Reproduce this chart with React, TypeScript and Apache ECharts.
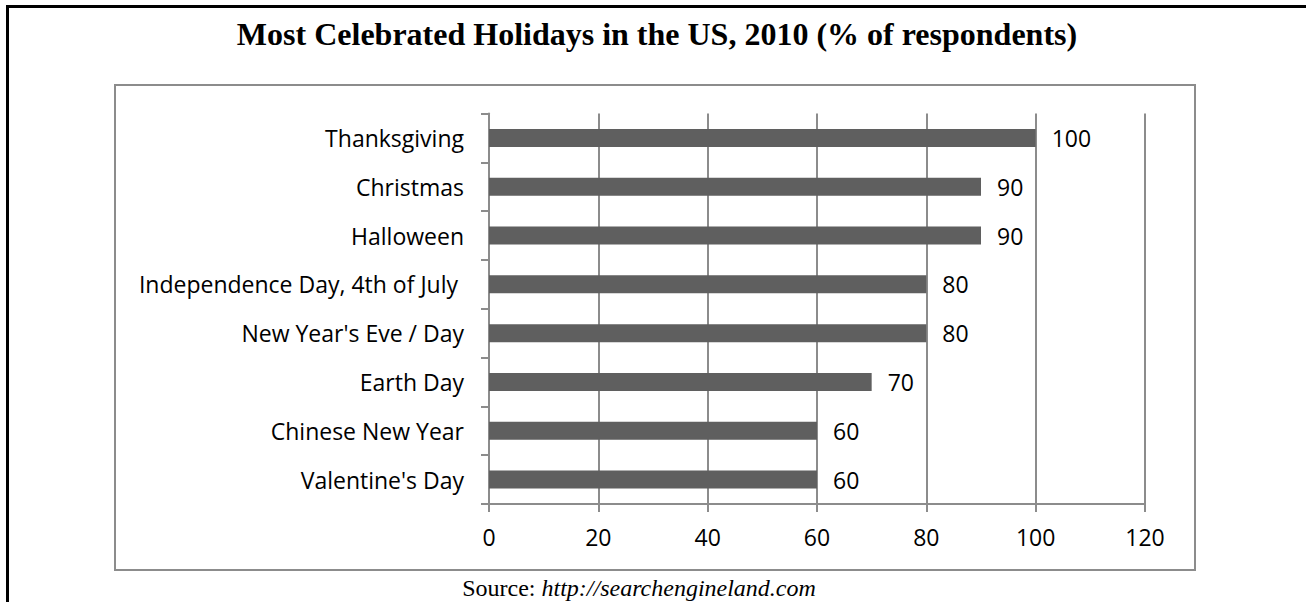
import React, { useEffect, useRef } from "react";
import * as echarts from "echarts";

const categories = [
  "Thanksgiving",
  "Christmas",
  "Halloween",
  "Independence Day, 4th of July ",
  "New Year's Eve / Day",
  "Earth Day",
  "Chinese New Year",
  "Valentine's Day",
];
const values = [100, 90, 90, 80, 80, 70, 60, 60];
const xTicks = { min: 0, max: 120, interval: 20 };

const TITLE = "Most Celebrated Holidays in the US, 2010 (% of respondents)";
const SANS = "'Open Sans', Lato, sans-serif";
const SERIF = "'Liberation Serif', 'DejaVu Serif', serif";

export default function App() {
  const ref = useRef<HTMLDivElement>(null);
  useEffect(() => {
    if (!ref.current) return;
    const chart = echarts.init(ref.current, undefined, { renderer: "svg" });
    chart.setOption({
      animation: false,
      backgroundColor: "#ffffff",
      title: {
        text: TITLE,
        left: 652,
        top: 13,
        textAlign: "center",
        textStyle: { fontFamily: SERIF, fontWeight: "bold", fontSize: 32, color: "#000" },
      },
      graphic: [
        {
          type: "line",
          shape: { x1: 7.5, y1: 6.5, x2: 1306, y2: 6.5 },
          style: { stroke: "#000", lineWidth: 3 },
          silent: true,
        },
        {
          type: "line",
          shape: { x1: 7.5, y1: 5, x2: 7.5, y2: 602 },
          style: { stroke: "#000", lineWidth: 3 },
          silent: true,
        },
        {
          type: "rect",
          shape: { x: 115, y: 85, width: 1080, height: 485 },
          style: { fill: "none", stroke: "#8c8c8c", lineWidth: 2 },
          silent: true,
        },
        {
          type: "text",
          x: 639,
          y: 588,
          style: {
            text: "{n|Source: }{i|http://searchengineland.com}",
            align: "center",
            verticalAlign: "middle",
            rich: {
              n: { fontFamily: SERIF, fontSize: 24, fill: "#000" },
              i: { fontFamily: SERIF, fontSize: 24, fontStyle: "italic", fill: "#000" },
            },
          },
          silent: true,
        },
      ],
      grid: { left: 489, right: 161, top: 113.5, bottom: 98, containLabel: false },
      xAxis: {
        type: "value",
        min: xTicks.min,
        max: xTicks.max,
        interval: xTicks.interval,
        axisLine: { show: true, lineStyle: { color: "#8c8c8c", width: 2 } },
        axisTick: { show: true, length: 8, lineStyle: { color: "#8c8c8c", width: 2 } },
        axisLabel: { margin: 21, fontFamily: SANS, fontSize: 23, color: "#000" },
        splitLine: { show: true, lineStyle: { color: "#8c8c8c", width: 2 } },
      },
      yAxis: {
        type: "category",
        data: categories,
        inverse: true,
        axisLine: { show: true, lineStyle: { color: "#8c8c8c", width: 2 } },
        axisTick: { show: true, length: 8, alignWithLabel: false, lineStyle: { color: "#8c8c8c", width: 2 } },
        axisLabel: { margin: 25, fontFamily: SANS, fontSize: 23, color: "#000" },
        splitLine: { show: false },
      },
      series: [
        {
          type: "bar",
          data: values,
          barWidth: 18,
          itemStyle: { color: "#5f5f5f" },
          label: {
            show: true,
            position: "right",
            distance: 16,
            fontFamily: SANS,
            fontSize: 23,
            color: "#000",
          },
        },
      ],
    });
    return () => chart.dispose();
  }, []);
  return (
    <div
      ref={ref}
      style={{ position: "fixed", left: 0, top: 0, width: 1306, height: 602 }}
    />
  );
}
